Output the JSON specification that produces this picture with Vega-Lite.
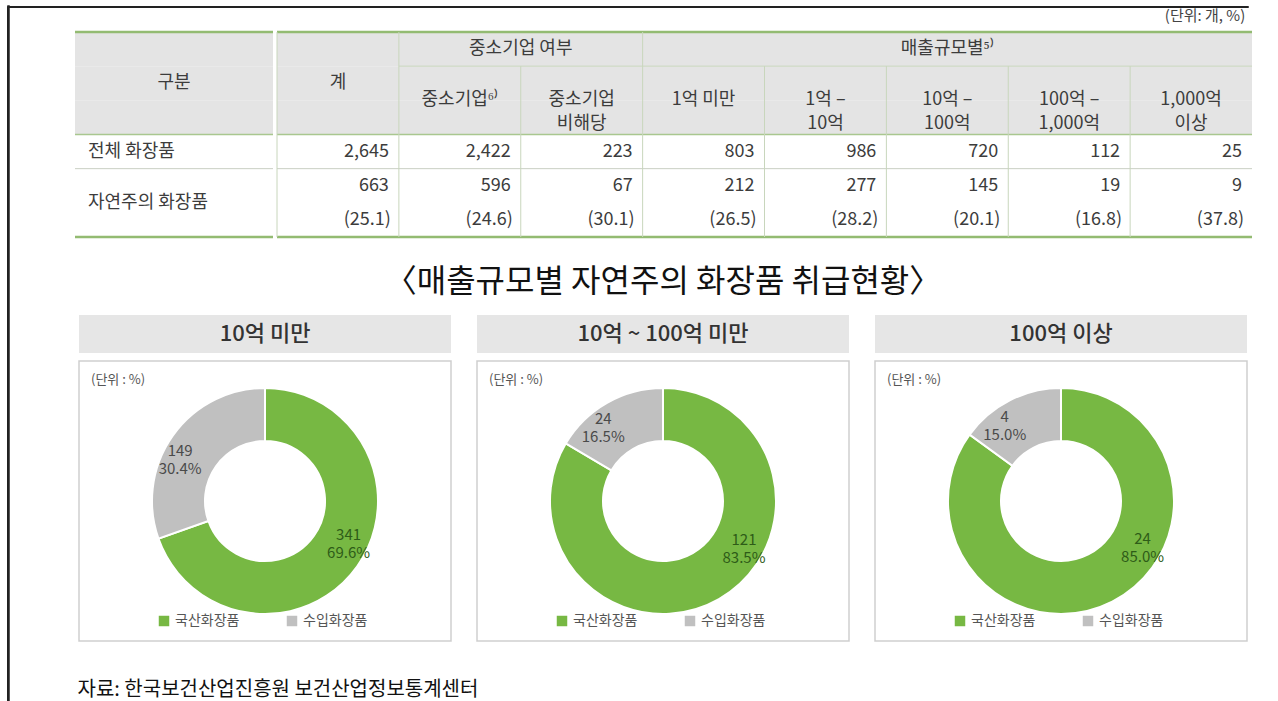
{
  "$schema": "https://vega.github.io/schema/vega-lite/v6.json",
  "background": "white",
  "padding": {"left": 6, "top": 5, "right": 0, "bottom": 0},
  "spacing": 0,
  "bounds": "flush",
  "config": {
    "font": "Noto Sans CJK KR",
    "view": {"stroke": null},
    "concat": {"spacing": 0},
    "title": {"fontWeight": "normal", "color": "#222"}
  },
  "datasets": {
    "donut": [
      {"panel": "10억 미만", "type": "국산화장품", "count": 341, "share": 0.696},
      {"panel": "10억 미만", "type": "수입화장품", "count": 149, "share": 0.304},
      {"panel": "10억 ~ 100억 미만", "type": "국산화장품", "count": 121, "share": 0.835},
      {"panel": "10억 ~ 100억 미만", "type": "수입화장품", "count": 24, "share": 0.165},
      {"panel": "100억 이상", "type": "국산화장품", "count": 24, "share": 0.85},
      {"panel": "100억 이상", "type": "수입화장품", "count": 4, "share": 0.15}
    ],
    "counts": [
      {"row": "r1", "col": "계", "n": 2645},
      {"row": "r1", "col": "중소기업", "n": 2422},
      {"row": "r1", "col": "비해당", "n": 223},
      {"row": "r1", "col": "1억 미만", "n": 803},
      {"row": "r1", "col": "1억-10억", "n": 986},
      {"row": "r1", "col": "10억-100억", "n": 720},
      {"row": "r1", "col": "100억-1000억", "n": 112},
      {"row": "r1", "col": "1000억 이상", "n": 25},
      {"row": "r2a", "col": "계", "n": 663},
      {"row": "r2a", "col": "중소기업", "n": 596},
      {"row": "r2a", "col": "비해당", "n": 67},
      {"row": "r2a", "col": "1억 미만", "n": 212},
      {"row": "r2a", "col": "1억-10억", "n": 277},
      {"row": "r2a", "col": "10억-100억", "n": 145},
      {"row": "r2a", "col": "100억-1000억", "n": 19},
      {"row": "r2a", "col": "1000억 이상", "n": 9}
    ],
    "pcts": [
      {"row": "r2b", "col": "계", "p": "(25.1)"},
      {"row": "r2b", "col": "중소기업", "p": "(24.6)"},
      {"row": "r2b", "col": "비해당", "p": "(30.1)"},
      {"row": "r2b", "col": "1억 미만", "p": "(26.5)"},
      {"row": "r2b", "col": "1억-10억", "p": "(28.2)"},
      {"row": "r2b", "col": "10억-100억", "p": "(20.1)"},
      {"row": "r2b", "col": "100억-1000억", "p": "(16.8)"},
      {"row": "r2b", "col": "1000억 이상", "p": "(37.8)"}
    ],
    "subheads": [
      {"row": "h2b", "col": "중소기업", "label": "중소기업⁶⁾"},
      {"row": "h2b", "col": "비해당", "label": ["중소기업", "비해당"]},
      {"row": "h2b", "col": "1억 미만", "label": "1억 미만"},
      {"row": "h2b", "col": "1억-10억", "label": ["1억 –", "10억"]},
      {"row": "h2b", "col": "10억-100억", "label": ["10억 –", "100억"]},
      {"row": "h2b", "col": "100억-1000억", "label": ["100억 –", "1,000억"]},
      {"row": "h2b", "col": "1000억 이상", "label": ["1,000억", "이상"]}
    ],
    "vlines": [
      {"col": "계", "from": "h1", "to": "r2b"},
      {"col": "중소기업", "from": "h1", "to": "r2b"},
      {"col": "비해당", "from": "h2a", "to": "r2b"},
      {"col": "1억 미만", "from": "h1", "to": "r2b"},
      {"col": "1억-10억", "from": "h2a", "to": "r2b"},
      {"col": "10억-100억", "from": "h2a", "to": "r2b"},
      {"col": "100억-1000억", "from": "h2a", "to": "r2b"},
      {"col": "1000억 이상", "from": "h2a", "to": "r2b"}
    ],
    "headrows": [{"row": "h1"}, {"row": "h2a"}, {"row": "h2b"}]
  },
  "hconcat": [
    {
      "width": 1, "height": 720,
      "view": {"stroke": "#222", "strokeWidth": 1},
      "data": {"values": [{}]},
      "mark": {"type": "point", "size": 0, "opacity": 0},
      "encoding": {}
    },
    {
      "spacing": 0,
      "title": {"text": "자료: 한국보건산업진흥원 보건산업정보통계센터", "orient": "bottom", "anchor": "start", "dx": 70, "offset": 38, "fontSize": 20, "color": "#111"},
      "vconcat": [
        {
          "width": 1240, "height": 1,
          "view": {"stroke": "#222", "strokeWidth": 1},
          "data": {"values": [{}]},
          "mark": {"type": "point", "size": 0, "opacity": 0},
          "encoding": {}
        },
        {
          "spacing": 0,
          "title": {"text": "(단위: 개, %)", "anchor": "end", "fontSize": 15, "color": "#444", "offset": 7, "dx": -8},
          "hconcat": [
            {
              "width": 65, "height": 1,
              "data": {"values": [{}]},
              "mark": {"type": "point", "size": 0, "opacity": 0},
              "encoding": {}
            },
            {
              "width": 198, "height": 205,
              "layer": [
                {
                  "data": {"name": "headrows"},
                  "mark": {"type": "rect", "fill": "#e4e4e4"},
                  "encoding": {"y": {"field": "row", "type": "nominal", "scale": {"domain": ["h1", "h2a", "h2b", "r1", "r2a", "r2b"], "paddingInner": 0, "paddingOuter": 0}, "axis": null}}
                },
                {
                  "data": {"values": [{"row": "h1"}]},
                  "mark": {"type": "rule", "color": "#93bb72", "strokeWidth": 2.5},
                  "encoding": {"y": {"field": "row", "type": "nominal", "bandPosition": 0, "axis": null}}
                },
                {
                  "data": {"values": [{"row": "r1"}]},
                  "mark": {"type": "rule", "color": "#a9c78f", "strokeWidth": 1.5},
                  "encoding": {"y": {"field": "row", "type": "nominal", "bandPosition": 0, "axis": null}}
                },
                {
                  "data": {"values": [{"row": "r2a"}]},
                  "mark": {"type": "rule", "color": "#c9cfc3", "strokeWidth": 1},
                  "encoding": {"y": {"field": "row", "type": "nominal", "bandPosition": 0, "axis": null}}
                },
                {
                  "data": {"values": [{"row": "r2b"}]},
                  "mark": {"type": "rule", "color": "#93bb72", "strokeWidth": 2.5},
                  "encoding": {"y": {"field": "row", "type": "nominal", "bandPosition": 1, "axis": null}}
                },
                {
                  "data": {"values": [{"row": "h2a", "label": "구분"}]},
                  "mark": {"type": "text", "fontSize": 18, "color": "#3c3c3c"},
                  "encoding": {"y": {"field": "row", "type": "nominal", "axis": null}, "text": {"field": "label"}}
                },
                {
                  "data": {"values": [{"row": "r1", "label": "전체 화장품"}]},
                  "mark": {"type": "text", "fontSize": 18, "color": "#3c3c3c", "align": "left", "dx": -86},
                  "encoding": {"y": {"field": "row", "type": "nominal", "axis": null}, "text": {"field": "label"}}
                },
                {
                  "data": {"values": [{"row": "r2b", "label": "자연주의 화장품"}]},
                  "mark": {"type": "text", "fontSize": 18, "color": "#3c3c3c", "align": "left", "dx": -86},
                  "encoding": {"y": {"field": "row", "type": "nominal", "bandPosition": 0, "axis": null}, "text": {"field": "label"}}
                }
              ]
            },
            {
              "width": 975, "height": 205,
              "layer": [
                {
                  "data": {"name": "headrows"},
                  "mark": {"type": "rect", "fill": "#e4e4e4"},
                  "encoding": {"y": {"field": "row", "type": "nominal", "scale": {"domain": ["h1", "h2a", "h2b", "r1", "r2a", "r2b"], "paddingInner": 0, "paddingOuter": 0}, "axis": null}}
                },
                {
                  "data": {"values": [{"row": "h1"}]},
                  "mark": {"type": "rule", "color": "#93bb72", "strokeWidth": 2.5},
                  "encoding": {"y": {"field": "row", "type": "nominal", "bandPosition": 0, "axis": null}}
                },
                {
                  "data": {"values": [{"row": "r1"}]},
                  "mark": {"type": "rule", "color": "#a9c78f", "strokeWidth": 1.5},
                  "encoding": {"y": {"field": "row", "type": "nominal", "bandPosition": 0, "axis": null}}
                },
                {
                  "data": {"values": [{"row": "r2a"}]},
                  "mark": {"type": "rule", "color": "#c9cfc3", "strokeWidth": 1},
                  "encoding": {"y": {"field": "row", "type": "nominal", "bandPosition": 0, "axis": null}}
                },
                {
                  "data": {"values": [{"row": "r2b"}]},
                  "mark": {"type": "rule", "color": "#93bb72", "strokeWidth": 2.5},
                  "encoding": {"y": {"field": "row", "type": "nominal", "bandPosition": 1, "axis": null}}
                },
                {
                  "data": {"values": [{"row": "h2a", "from": "중소기업", "to": "1000억 이상"}]},
                  "mark": {"type": "rule", "color": "#c8d6bc", "strokeWidth": 1},
                  "encoding": {
                    "y": {"field": "row", "type": "nominal", "bandPosition": 0, "axis": null},
                    "x": {"field": "from", "type": "nominal", "bandPosition": 0, "scale": {"domain": ["계", "중소기업", "비해당", "1억 미만", "1억-10억", "10억-100억", "100억-1000억", "1000억 이상"], "paddingInner": 0, "paddingOuter": 0}, "axis": null},
                    "x2": {"field": "to", "bandPosition": 1}
                  }
                },
                {
                  "data": {"name": "vlines"},
                  "mark": {"type": "rule", "color": "#c8d6bc", "strokeWidth": 1},
                  "encoding": {
                    "x": {"field": "col", "type": "nominal", "bandPosition": 0, "axis": null},
                    "y": {"field": "from", "type": "nominal", "bandPosition": 0, "axis": null},
                    "y2": {"field": "to", "bandPosition": 1}
                  }
                },
                {
                  "data": {"values": [{"row": "h1", "col": "비해당", "label": "중소기업 여부"}]},
                  "mark": {"type": "text", "fontSize": 18, "color": "#3c3c3c"},
                  "encoding": {
                    "x": {"field": "col", "type": "nominal", "bandPosition": 0, "axis": null},
                    "y": {"field": "row", "type": "nominal", "axis": null},
                    "text": {"field": "label"}
                  }
                },
                {
                  "data": {"values": [{"row": "h1", "col": "10억-100억", "label": "매출규모별⁵⁾"}]},
                  "mark": {"type": "text", "fontSize": 18, "color": "#3c3c3c"},
                  "encoding": {
                    "x": {"field": "col", "type": "nominal", "axis": null},
                    "y": {"field": "row", "type": "nominal", "axis": null},
                    "text": {"field": "label"}
                  }
                },
                {
                  "data": {"values": [{"row": "h2a", "col": "계", "label": "계"}]},
                  "mark": {"type": "text", "fontSize": 18, "color": "#3c3c3c"},
                  "encoding": {
                    "x": {"field": "col", "type": "nominal", "axis": null},
                    "y": {"field": "row", "type": "nominal", "axis": null},
                    "text": {"field": "label"}
                  }
                },
                {
                  "data": {"name": "subheads"},
                  "mark": {"type": "text", "fontSize": 18, "color": "#3c3c3c", "lineHeight": 24},
                  "encoding": {
                    "x": {"field": "col", "type": "nominal", "axis": null},
                    "y": {"field": "row", "type": "nominal", "bandPosition": 0, "axis": null},
                    "text": {"field": "label"}
                  }
                },
                {
                  "data": {"name": "counts"},
                  "mark": {"type": "text", "fontSize": 18, "color": "#3c3c3c", "align": "right", "dx": -10},
                  "encoding": {
                    "x": {"field": "col", "type": "nominal", "bandPosition": 1, "axis": null},
                    "y": {"field": "row", "type": "nominal", "axis": null},
                    "text": {"field": "n", "type": "quantitative", "format": ","}
                  }
                },
                {
                  "data": {"name": "pcts"},
                  "mark": {"type": "text", "fontSize": 18, "color": "#3c3c3c", "align": "right", "dx": -8},
                  "encoding": {
                    "x": {"field": "col", "type": "nominal", "bandPosition": 1, "axis": null},
                    "y": {"field": "row", "type": "nominal", "axis": null},
                    "text": {"field": "p"}
                  }
                }
              ]
            }
          ]
        },
        {
          "width": 1, "height": 27,
          "data": {"values": [{}]},
          "mark": {"type": "point", "size": 0, "opacity": 0},
          "encoding": {}
        },
        {
          "spacing": 0,
          "hconcat": [
            {
              "width": 70, "height": 1,
              "data": {"values": [{}]},
              "mark": {"type": "point", "size": 0, "opacity": 0},
              "encoding": {}
            },
            {
              "spacing": 24,
              "title": {"text": "〈매출규모별 자연주의 화장품 취급현황〉", "anchor": "middle", "fontSize": 32, "color": "#111", "offset": 16},
              "resolve": {"scale": {"color": "independent"}, "legend": {"color": "independent"}},
              "hconcat": [
                {
                  "spacing": 7,
                  "vconcat": [
                    {
                      "width": 372, "height": 38,
                      "view": {"fill": "#e6e6e6", "stroke": null},
                      "data": {"values": [{"panel": "10억 미만"}]},
                      "mark": {"type": "text", "fontSize": 22, "color": "#333", "fontWeight": 500},
                      "encoding": {"text": {"field": "panel"}}
                    },
                    {
                      "width": 372, "height": 280,
                      "view": {"stroke": "#cfcfcf", "strokeWidth": 1.5},
                      "title": {"text": "(단위 : %)", "anchor": "start", "offset": -26, "dx": 12, "fontSize": 13, "color": "#555"},
                      "data": {"name": "donut"},
                      "transform": [{"filter": "datum.panel === '10억 미만'"}],
                      "encoding": {
                        "theta": {"field": "share", "type": "quantitative", "stack": true},
                        "order": {"field": "type"}
                      },
                      "layer": [
                        {
                          "mark": {"type": "arc", "innerRadius": 60, "outerRadius": 113, "stroke": "white", "strokeWidth": 2},
                          "encoding": {
                            "color": {"field": "type", "type": "nominal", "scale": {"domain": ["국산화장품", "수입화장품"], "range": ["#77b843", "#c0c0c0"]},
                              "legend": {"orient": "none", "legendX": 78, "legendY": 299, "direction": "horizontal", "title": null, "symbolType": "square", "symbolSize": 110, "symbolStrokeWidth": 0, "labelFontSize": 14, "labelColor": "#555", "columnPadding": 45}}
                          }
                        },
                        {
                          "transform": [{"filter": "datum.type === '국산화장품'"}],
                          "mark": {"type": "text", "radius": 94, "thetaOffset": -0.14, "dy": -9, "fontSize": 15, "color": "#2e5c18"},
                          "encoding": {"text": {"field": "count", "type": "quantitative"}}
                        },
                        {
                          "transform": [{"filter": "datum.type === '국산화장품'"}],
                          "mark": {"type": "text", "radius": 94, "thetaOffset": -0.14, "dy": 9, "fontSize": 15, "color": "#2e5c18"},
                          "encoding": {"text": {"field": "share", "type": "quantitative", "format": ".1%"}}
                        },
                        {
                          "mark": {"type": "text", "radius": 94, "thetaOffset": -0.17, "dy": -9, "fontSize": 15, "color": "#4a4a4a"},
                          "encoding": {
                            "detail": {"field": "type"},
                            "text": {"condition": {"test": "datum.type === '국산화장품'", "value": ""}, "field": "count", "type": "quantitative"}
                          }
                        },
                        {
                          "mark": {"type": "text", "radius": 94, "thetaOffset": -0.17, "dy": 9, "fontSize": 15, "color": "#4a4a4a"},
                          "encoding": {
                            "detail": {"field": "type"},
                            "text": {"condition": {"test": "datum.type === '국산화장품'", "value": ""}, "field": "share", "type": "quantitative", "format": ".1%"}
                          }
                        }
                      ]
                    }
                  ]
                },
                {
                  "spacing": 7,
                  "vconcat": [
                    {
                      "width": 372, "height": 38,
                      "view": {"fill": "#e6e6e6", "stroke": null},
                      "data": {"values": [{"panel": "10억 ~ 100억 미만"}]},
                      "mark": {"type": "text", "fontSize": 22, "color": "#333", "fontWeight": 500},
                      "encoding": {"text": {"field": "panel"}}
                    },
                    {
                      "width": 372, "height": 280,
                      "view": {"stroke": "#cfcfcf", "strokeWidth": 1.5},
                      "title": {"text": "(단위 : %)", "anchor": "start", "offset": -26, "dx": 12, "fontSize": 13, "color": "#555"},
                      "data": {"name": "donut"},
                      "transform": [{"filter": "datum.panel === '10억 ~ 100억 미만'"}],
                      "encoding": {
                        "theta": {"field": "share", "type": "quantitative", "stack": true},
                        "order": {"field": "type"}
                      },
                      "layer": [
                        {
                          "mark": {"type": "arc", "innerRadius": 60, "outerRadius": 113, "stroke": "white", "strokeWidth": 2},
                          "encoding": {
                            "color": {"field": "type", "type": "nominal", "scale": {"domain": ["국산화장품", "수입화장품"], "range": ["#77b843", "#c0c0c0"]},
                              "legend": {"orient": "none", "legendX": 78, "legendY": 299, "direction": "horizontal", "title": null, "symbolType": "square", "symbolSize": 110, "symbolStrokeWidth": 0, "labelFontSize": 14, "labelColor": "#555", "columnPadding": 45}}
                          }
                        },
                        {
                          "transform": [{"filter": "datum.type === '국산화장품'"}],
                          "mark": {"type": "text", "radius": 94, "thetaOffset": -0.52, "dy": -9, "fontSize": 15, "color": "#2e5c18"},
                          "encoding": {"text": {"field": "count", "type": "quantitative"}}
                        },
                        {
                          "transform": [{"filter": "datum.type === '국산화장품'"}],
                          "mark": {"type": "text", "radius": 94, "thetaOffset": -0.52, "dy": 9, "fontSize": 15, "color": "#2e5c18"},
                          "encoding": {"text": {"field": "share", "type": "quantitative", "format": ".1%"}}
                        },
                        {
                          "mark": {"type": "text", "radius": 94, "thetaOffset": -0.17, "dy": -9, "fontSize": 15, "color": "#4a4a4a"},
                          "encoding": {
                            "detail": {"field": "type"},
                            "text": {"condition": {"test": "datum.type === '국산화장품'", "value": ""}, "field": "count", "type": "quantitative"}
                          }
                        },
                        {
                          "mark": {"type": "text", "radius": 94, "thetaOffset": -0.17, "dy": 9, "fontSize": 15, "color": "#4a4a4a"},
                          "encoding": {
                            "detail": {"field": "type"},
                            "text": {"condition": {"test": "datum.type === '국산화장품'", "value": ""}, "field": "share", "type": "quantitative", "format": ".1%"}
                          }
                        }
                      ]
                    }
                  ]
                },
                {
                  "spacing": 7,
                  "vconcat": [
                    {
                      "width": 372, "height": 38,
                      "view": {"fill": "#e6e6e6", "stroke": null},
                      "data": {"values": [{"panel": "100억 이상"}]},
                      "mark": {"type": "text", "fontSize": 22, "color": "#333", "fontWeight": 500},
                      "encoding": {"text": {"field": "panel"}}
                    },
                    {
                      "width": 372, "height": 280,
                      "view": {"stroke": "#cfcfcf", "strokeWidth": 1.5},
                      "title": {"text": "(단위 : %)", "anchor": "start", "offset": -26, "dx": 12, "fontSize": 13, "color": "#555"},
                      "data": {"name": "donut"},
                      "transform": [{"filter": "datum.panel === '100억 이상'"}],
                      "encoding": {
                        "theta": {"field": "share", "type": "quantitative", "stack": true},
                        "order": {"field": "type"}
                      },
                      "layer": [
                        {
                          "mark": {"type": "arc", "innerRadius": 60, "outerRadius": 113, "stroke": "white", "strokeWidth": 2},
                          "encoding": {
                            "color": {"field": "type", "type": "nominal", "scale": {"domain": ["국산화장품", "수입화장품"], "range": ["#77b843", "#c0c0c0"]},
                              "legend": {"orient": "none", "legendX": 78, "legendY": 299, "direction": "horizontal", "title": null, "symbolType": "square", "symbolSize": 110, "symbolStrokeWidth": 0, "labelFontSize": 14, "labelColor": "#555", "columnPadding": 45}}
                          }
                        },
                        {
                          "transform": [{"filter": "datum.type === '국산화장품'"}],
                          "mark": {"type": "text", "radius": 94, "thetaOffset": -0.58, "dy": -9, "fontSize": 15, "color": "#2e5c18"},
                          "encoding": {"text": {"field": "count", "type": "quantitative"}}
                        },
                        {
                          "transform": [{"filter": "datum.type === '국산화장품'"}],
                          "mark": {"type": "text", "radius": 94, "thetaOffset": -0.58, "dy": 9, "fontSize": 15, "color": "#2e5c18"},
                          "encoding": {"text": {"field": "share", "type": "quantitative", "format": ".1%"}}
                        },
                        {
                          "mark": {"type": "text", "radius": 94, "thetaOffset": -0.17, "dy": -9, "fontSize": 15, "color": "#4a4a4a"},
                          "encoding": {
                            "detail": {"field": "type"},
                            "text": {"condition": {"test": "datum.type === '국산화장품'", "value": ""}, "field": "count", "type": "quantitative"}
                          }
                        },
                        {
                          "mark": {"type": "text", "radius": 94, "thetaOffset": -0.17, "dy": 9, "fontSize": 15, "color": "#4a4a4a"},
                          "encoding": {
                            "detail": {"field": "type"},
                            "text": {"condition": {"test": "datum.type === '국산화장품'", "value": ""}, "field": "share", "type": "quantitative", "format": ".1%"}
                          }
                        }
                      ]
                    }
                  ]
                }
              ]
            }
          ]
        }
      ]
    },
    {
      "width": 1, "height": 720,
      "view": {"stroke": "#222", "strokeWidth": 1.5},
      "data": {"values": [{}]},
      "mark": {"type": "point", "size": 0, "opacity": 0},
      "encoding": {}
    }
  ]
}
